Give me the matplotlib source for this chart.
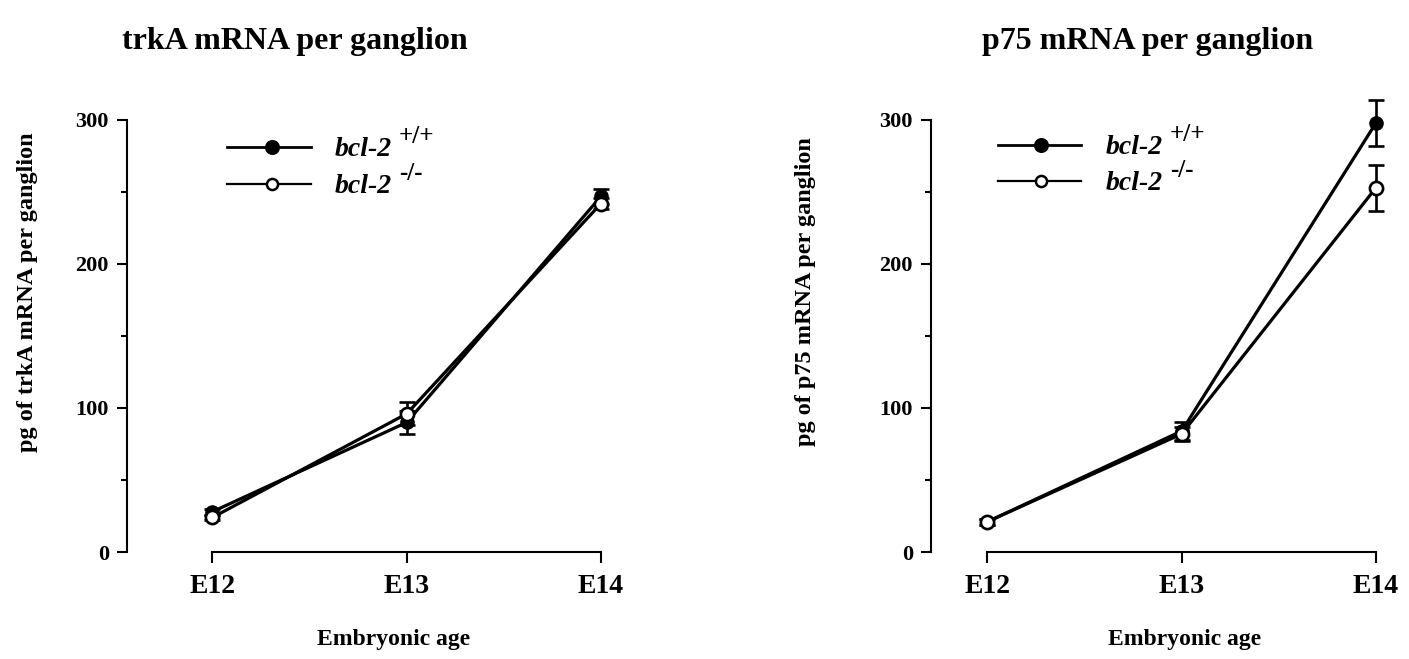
import matplotlib
matplotlib.use("Agg")
import matplotlib.pyplot as plt
from matplotlib.lines import Line2D
from matplotlib.ticker import MultipleLocator

plt.rcParams['font.family'] = ['Liberation Serif', 'DejaVu Serif']
plt.rcParams['font.weight'] = 'bold'

# ---- data ----
categories = ['E12', 'E13', 'E14']
trkA_wt = [28, 90, 247]
trkA_wt_err = [2, 8, 5]
trkA_ko = [24, 96, 242]
trkA_ko_err = [2, 8, 4]
p75_wt = [21, 84, 298]
p75_wt_err = [2, 6, 16]
p75_ko = [21, 82, 253]
p75_ko_err = [2, 5, 16]
yticks = [0, 100, 200, 300]
titles = ['trkA mRNA per ganglion', 'p75 mRNA per ganglion']
ylabels = ['pg of trkA mRNA per ganglion', 'pg of p75 mRNA per ganglion']
xlabel = 'Embryonic age'
legend_gene = 'bcl-2'
legend_sups = ['+/+', '-/-']

W, H = 1409, 659
fig = plt.figure(figsize=(W / 100, H / 100), dpi=100)


def fx(x):
    return x / W


def fy(y):
    return 1 - y / H


def make_axes(x0, x1, xleft):
    ax = fig.add_axes([fx(x0), fy(552), fx(x1) - fx(x0), fy(120) - fy(552)])
    ax.set_xlim(xleft, 2)
    ax.set_ylim(0, 300)
    for s in ['top', 'right']:
        ax.spines[s].set_visible(False)
    ax.spines['bottom'].set_bounds(0, 2)
    ax.spines['left'].set_linewidth(1.5)
    ax.spines['bottom'].set_linewidth(1.5)
    ax.set_xticks(range(len(categories)))
    ax.set_xticklabels(categories, fontsize=20, fontweight='bold')
    ax.set_yticks(yticks)
    ax.set_yticklabels([str(t) for t in yticks], fontsize=16, fontweight='bold')
    ax.yaxis.set_minor_locator(MultipleLocator(50))
    ax.tick_params(axis='y', which='major', direction='out', length=7, width=1.5, pad=6)
    ax.tick_params(axis='y', which='minor', direction='out', length=4, width=1.5)
    ax.tick_params(axis='x', which='major', direction='out', length=8, width=1.5, pad=8)
    ax.patch.set_visible(False)
    return ax


def draw_series(ax, wt, wt_err, ko, ko_err):
    x = list(range(len(categories)))
    ax.errorbar(x, wt, yerr=wt_err, color='black', lw=2.3, marker='o', ms=9.5,
                mfc='black', mec='black', capsize=6, capthick=1.9, elinewidth=1.9,
                clip_on=False, zorder=3)
    ax.errorbar(x, ko, yerr=ko_err, color='black', lw=2.3, marker='o', ms=9.5,
                mfc='white', mec='black', mew=1.9, capsize=6, capthick=1.9,
                elinewidth=1.9, clip_on=False, zorder=4)


axL = make_axes(127, 601, -0.44)
axR = make_axes(931, 1376, -0.29)
draw_series(axL, trkA_wt, trkA_wt_err, trkA_ko, trkA_ko_err)
draw_series(axR, p75_wt, p75_wt_err, p75_ko, p75_ko_err)

# titles
fig.text(fx(295), fy(42), titles[0], ha='center', va='center', fontsize=23, fontweight='bold')
fig.text(fx(1148), fy(42), titles[1], ha='center', va='center', fontsize=23, fontweight='bold')

# y labels
fig.text(fx(28), fy(292), ylabels[0], ha='center', va='center', rotation=90,
         fontsize=17.5, fontweight='bold')
fig.text(fx(805), fy(292), ylabels[1], ha='center', va='center', rotation=90,
         fontsize=17.5, fontweight='bold')

# x labels
fig.text(fx(394), fy(640), xlabel, ha='center', va='center', fontsize=17, fontweight='bold')
fig.text(fx(1185), fy(640), xlabel, ha='center', va='center', fontsize=17, fontweight='bold')


# legends
def legend(x_line0, x_line1, x_mark, x_text, y_rows):
    for i, (y, sup) in enumerate(zip(y_rows, legend_sups)):
        lw = 2.0 if i == 0 else 1.6
        fig.add_artist(Line2D([fx(x_line0), fx(x_line1)], [fy(y), fy(y)],
                              color='black', lw=lw, transform=fig.transFigure))
        fc = 'black' if i == 0 else 'white'
        fig.add_artist(Line2D([fx(x_mark)], [fy(y)], marker='o', ms=9 if i == 0 else 8,
                              mfc=fc, mec='black', mew=1.8, ls='none',
                              transform=fig.transFigure))
        fig.text(fx(x_text), fy(y + 9), legend_gene, ha='left', va='baseline',
                 fontsize=20, fontweight='bold', fontstyle='italic')
        fig.text(fx(x_text + 64), fy(y - 4), sup, ha='left', va='baseline',
                 fontsize=18, fontweight='bold')


legend(227, 311, 272, 335, [147, 184])
legend(998, 1081, 1041, 1106, [145, 181])

fig.savefig('out.png', dpi=100)
